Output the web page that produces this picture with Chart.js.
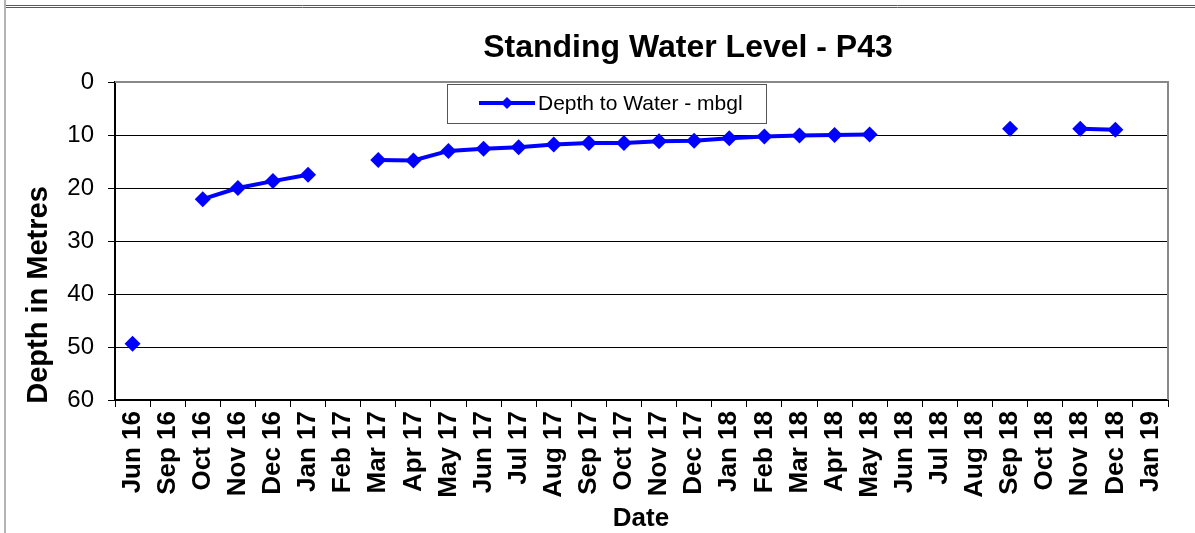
<!DOCTYPE html>
<html>
<head>
<meta charset="utf-8">
<script src="https://cdn.jsdelivr.net/npm/chart.js@4.4.1/dist/chart.umd.min.js"></script>
<style>
body{margin:0;background:#fff;}
#chart{position:relative;width:1195px;height:533px;}
</style>
</head>
<body>
<div id="chart"><canvas id="myChart" width="1195" height="533"></canvas></div>
<script>
// data
const dateLabels = ['Jun 16','Sep 16','Oct 16','Nov 16','Dec 16','Jan 17','Feb 17','Mar 17','Apr 17','May 17',
    'Jun 17','Jul 17','Aug 17','Sep 17','Oct 17','Nov 17','Dec 17','Jan 18','Feb 18','Mar 18',
    'Apr 18','May 18','Jun 18','Jul 18','Aug 18','Sep 18','Oct 18','Nov 18','Dec 18','Jan 19'];
const depthValues = [49.4,null,22.1,20.0,18.7,17.5,null,14.7,14.8,13.0,
    12.6,12.3,11.8,11.5,11.5,11.2,11.1,10.6,10.3,10.1,
    10.0,9.9,null,null,null,8.8,null,8.8,9.0,null];
const depthTicks = [0,10,20,30,40,50,60];

const seriesName = 'Depth to Water - mbgl';
const chartTitle = 'Standing Water Level - P43';
const yTitle = 'Depth in Metres';
const xTitle = 'Date';

const FONT = '"Liberation Sans", Arial, sans-serif';
const BLUE = '#0000ff';

const decor = {
    id: 'decor',
    beforeDraw(chart){
        const ctx = chart.ctx;
        ctx.save();
        // outer frame bits
        ctx.strokeStyle = '#5a5a5a';
        ctx.lineWidth = 1;
        ctx.beginPath();
        ctx.moveTo(5, 5.5); ctx.lineTo(1195, 5.5);
        ctx.moveTo(5, 7.5); ctx.lineTo(1195, 7.5);
        ctx.stroke();
        ctx.strokeStyle = '#b4b4b4';
        ctx.lineWidth = 2;
        ctx.beginPath();
        ctx.moveTo(5, 0); ctx.lineTo(5, 533);
        ctx.stroke();
        ctx.restore();
    },
    afterDraw(chart){
        const ctx = chart.ctx;
        const a = chart.chartArea;
        ctx.save();
        // plot area border (top, right)
        ctx.strokeStyle = '#888';
        ctx.lineWidth = 2;
        ctx.beginPath();
        ctx.moveTo(a.left, a.top); ctx.lineTo(a.right, a.top); ctx.lineTo(a.right, a.bottom);
        ctx.stroke();

        // title
        ctx.fillStyle = '#000';
        ctx.textAlign = 'center';
        ctx.textBaseline = 'middle';
        ctx.font = 'bold 32px ' + FONT;
        ctx.fillText(chartTitle, 688, 48);

        // axis titles
        ctx.font = 'bold 26px ' + FONT;
        ctx.fillText(xTitle, 641, 519);
        ctx.font = 'bold 29px ' + FONT;
        ctx.save();
        ctx.translate(39, 295);
        ctx.rotate(-Math.PI / 2);
        ctx.fillText(yTitle, 0, 0);
        ctx.restore();

        // legend
        ctx.fillStyle = '#fff';
        ctx.fillRect(447, 84, 319, 39);
        ctx.strokeStyle = '#555';
        ctx.lineWidth = 1;
        ctx.strokeRect(447.5, 84.5, 319, 39);
        ctx.strokeStyle = BLUE;
        ctx.lineWidth = 4;
        ctx.beginPath();
        ctx.moveTo(479, 103); ctx.lineTo(535, 103);
        ctx.stroke();
        ctx.fillStyle = BLUE;
        ctx.beginPath();
        ctx.moveTo(507, 97); ctx.lineTo(513, 103); ctx.lineTo(507, 109); ctx.lineTo(501, 103);
        ctx.closePath();
        ctx.fill();
        ctx.fillStyle = '#000';
        ctx.textAlign = 'left';
        ctx.font = '21px ' + FONT;
        ctx.fillText(seriesName, 538, 104);
        ctx.restore();
    }
};

new Chart('myChart', {
    type: 'line',
    data: {
        labels: dateLabels,
        datasets: [{
            label: seriesName,
            data: depthValues,
            borderColor: BLUE,
            backgroundColor: BLUE,
            borderWidth: 4,
            fill: false,
            tension: 0,
            spanGaps: false,
            pointStyle: 'rectRot',
            pointRadius: 8,
            pointBorderWidth: 0,
            pointBackgroundColor: BLUE
        }]
    },
    options: {
        responsive: false,
        animation: false,
        layout: { padding: { top: 82, right: 27, left: 0, bottom: 0 } },
        plugins: {
            legend: { display: false },
            title: { display: false },
            tooltip: { enabled: false }
        },
        scales: {
            x: {
                type: 'category',
                offset: true,
                afterFit: (s) => { s.height = 133; },
                grid: {
                    offset: true,
                    drawOnChartArea: false,
                    tickLength: 7,
                    color: '#000'
                },
                border: { color: '#000', width: 2 },
                ticks: {
                    autoSkip: false,
                    minRotation: 90,
                    maxRotation: 90,
                    padding: 4,
                    color: '#000',
                    font: { family: FONT, size: 26, weight: 'bold' }
                }
            },
            y: {
                reverse: true,
                min: 0,
                max: 60,
                afterFit: (s) => { s.width = 115; },
                afterBuildTicks: (s) => { s.ticks = depthTicks.map(v => ({ value: v })); },
                grid: {
                    color: (c) => c.tick && c.tick.value === 0 ? 'rgba(0,0,0,0)' : '#000',
                    tickColor: '#000',
                    tickLength: 7,
                    lineWidth: 1
                },
                border: { color: '#000', width: 2 },
                ticks: {
                    padding: 14,
                    color: '#000',
                    font: { family: FONT, size: 24 }
                }
            }
        }
    },
    plugins: [decor]
});
</script>
</body>
</html>
